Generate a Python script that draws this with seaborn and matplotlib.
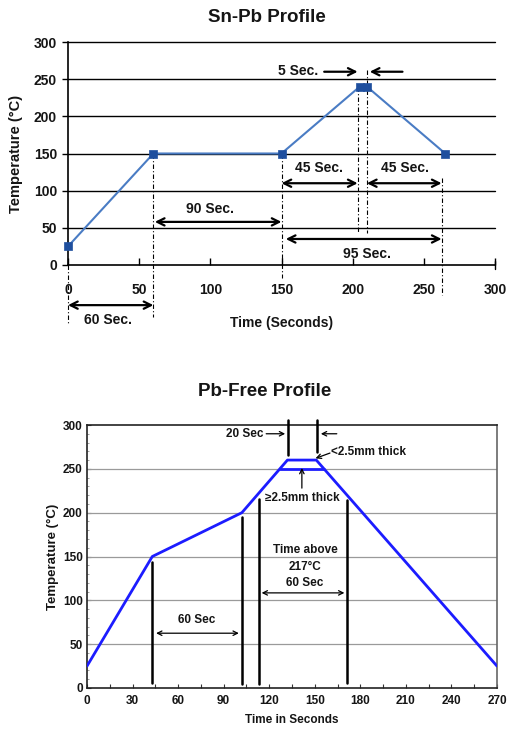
import matplotlib
matplotlib.use("Agg")
import matplotlib.pyplot as plt
import seaborn as sns
import pandas as pd

# ---------------- data ----------------
# Sn-Pb profile
snpb_time = [0, 60, 150, 205, 210, 265]
snpb_temp = [25, 150, 150, 240, 240, 150]
snpb_xticks = [0, 50, 100, 150, 200, 250, 300]
snpb_yticks = [0, 50, 100, 150, 200, 250, 300]

# Pb-free profile
pbf_time = [0, 43, 102, 132, 151, 270]
pbf_temp = [25, 150, 200, 260, 260, 25]
pbf_inner_time = [127, 156]
pbf_inner_temp = [250, 250]
pbf_xticks = [0, 30, 60, 90, 120, 150, 180, 210, 240, 270]
pbf_yticks = [0, 50, 100, 150, 200, 250, 300]

# ---------------- style ----------------
sns.set_theme(style="white")
plt.rcParams["font.family"] = ["Liberation Sans", "DejaVu Sans"]
plt.rcParams["font.weight"] = "bold"
plt.rcParams["text.color"] = "#151515"
plt.rcParams["axes.labelcolor"] = "#151515"

fig = plt.figure(figsize=(5.07, 7.29), dpi=100)

W, H = 507.0, 729.0
def box(l, t, r, b):
    return [l / W, 1 - b / H, (r - l) / W, (b - t) / H]

TXT = "#151515"

# ================= Sn-Pb =================
ax1 = fig.add_axes(box(68, 42, 495, 265))
df1 = pd.DataFrame({"Time": snpb_time, "Temp": snpb_temp})
for y in snpb_yticks[1:]:
    ax1.axhline(y, color="black", lw=1.0, zorder=1, clip_on=False)
sns.lineplot(data=df1, x="Time", y="Temp", ax=ax1, color="#4a7cc4", lw=1.5,
             zorder=3, sort=False)
sns.scatterplot(data=df1, x="Time", y="Temp", ax=ax1, marker="s", s=38,
                color="#1f4f9e", edgecolor="#1f4f9e", zorder=4, clip_on=False)
ax1.set_xlim(0, 300)
ax1.set_ylim(0, 300)
ax1.set_xticks(snpb_xticks)
ax1.set_yticks(snpb_yticks)
ax1.tick_params(axis="x", direction="in", length=5, width=1, pad=13,
                labelsize=10, colors="black", labelcolor=TXT, bottom=True)
ax1.tick_params(axis="y", direction="out", length=4, width=1, pad=4,
                labelsize=10, colors="black", labelcolor=TXT, left=True)
for lab in ax1.get_xticklabels() + ax1.get_yticklabels():
    lab.set_fontweight("bold")
for s in ["top", "right"]:
    ax1.spines[s].set_visible(False)
for s in ["left", "bottom"]:
    ax1.spines[s].set_color("black")
    ax1.spines[s].set_linewidth(1.2)
ax1.plot([300, 300], [-6, 6], color="black", lw=1, clip_on=False)
ax1.set_xlabel("Time (Seconds)", fontsize=10, fontweight="bold", labelpad=14)
ax1.set_ylabel("Temperature (°C)", fontsize=10.5, fontweight="bold", labelpad=8)

dd = dict(color="black", lw=0.8, ls=(0, (4, 2, 1, 2)), clip_on=False, zorder=2)
ax1.plot([0, 0], [0, -78], **dd)
ax1.plot([60, 60], [150, -70], **dd)
ax1.plot([150, 150], [150, -18], **dd)
ax1.plot([203.5, 203.5], [240, 43], **dd)
ax1.plot([210, 210], [262, 43], **dd)
ax1.plot([262.5, 262.5], [117, -40], **dd)

ap2 = dict(arrowstyle="<->", lw=1.6, color="black", mutation_scale=13,
           shrinkA=0, shrinkB=0)
ap1 = dict(arrowstyle="->", lw=1.6, color="black", mutation_scale=13,
           shrinkA=0, shrinkB=0)
def arr(ax, x0, y0, x1, y1, props):
    ax.annotate("", xy=(x1, y1), xytext=(x0, y0), arrowprops=props,
                annotation_clip=False)

arr(ax1, 0, -54, 60, -54, ap2)
ax1.text(28, -74, "60 Sec.", ha="center", va="center", fontsize=10, fontweight="bold")
arr(ax1, 61, 58, 150, 58, ap2)
ax1.text(100, 76, "90 Sec.", ha="center", va="center", fontsize=10, fontweight="bold")
arr(ax1, 150, 110, 203.5, 110, ap2)
ax1.text(176, 130, "45 Sec.", ha="center", va="center", fontsize=10, fontweight="bold")
arr(ax1, 210, 110, 262.5, 110, ap2)
ax1.text(237, 130, "45 Sec.", ha="center", va="center", fontsize=10, fontweight="bold")
arr(ax1, 153, 35, 262.5, 35, ap2)
ax1.text(210, 15, "95 Sec.", ha="center", va="center", fontsize=10, fontweight="bold")
arr(ax1, 180, 260, 203.5, 260, ap1)
arr(ax1, 235, 260, 212, 260, ap1)
ax1.text(162, 261, "5 Sec.", ha="center", va="center", fontsize=10, fontweight="bold")

fig.text(267 / W, 1 - 18 / H, "Sn-Pb Profile", ha="center", va="center",
         fontsize=13.5, fontweight="bold")

# ================= Pb-Free =================
ax2 = fig.add_axes(box(87, 425, 497, 688))
df2 = pd.DataFrame({"Time": pbf_time, "Temp": pbf_temp})
df2i = pd.DataFrame({"Time": pbf_inner_time, "Temp": pbf_inner_temp})
for y in pbf_yticks[1:-1]:
    ax2.axhline(y, color="#9a9a9a", lw=0.9, zorder=1)
sns.lineplot(data=df2, x="Time", y="Temp", ax=ax2, color="#1c1cff", lw=2.0,
             zorder=3, sort=False)
sns.lineplot(data=df2i, x="Time", y="Temp", ax=ax2, color="#1c1cff", lw=2.0,
             zorder=3, sort=False)
ax2.set_xlim(0, 270)
ax2.set_ylim(0, 300)
ax2.set_xticks(pbf_xticks)
ax2.set_yticks(pbf_yticks)
ax2.set_xticks(range(15, 271, 30), minor=True)
ax2.set_yticks(range(0, 301, 10), minor=True)
ax2.tick_params(axis="both", which="major", direction="in", length=3, width=0.8,
                labelsize=8.5, colors="#333333", labelcolor=TXT, bottom=True, left=True)
ax2.tick_params(axis="x", which="minor", direction="in", length=3, width=0.8,
                colors="#333333", bottom=True)
ax2.tick_params(axis="y", which="minor", direction="in", length=1.5, width=0.5,
                colors="#777777", left=True)
ax2.tick_params(axis="x", pad=5)
ax2.tick_params(axis="y", pad=3)
for lab in ax2.get_xticklabels() + ax2.get_yticklabels():
    lab.set_fontweight("bold")
for name, s in ax2.spines.items():
    s.set_visible(True)
    s.set_color("#222222" if name != "right" else "#666666")
    s.set_linewidth(1.2)
ax2.set_xlabel("Time in Seconds", fontsize=8.5, fontweight="bold", labelpad=5)
ax2.set_ylabel("Temperature (°C)", fontsize=9.5, fontweight="bold", labelpad=3)

vl = dict(color="black", lw=1.8, clip_on=False, zorder=4)
ax2.plot([43, 43], [144, 6], **vl)
ax2.plot([102, 102], [195, 4], **vl)
ax2.plot([113.5, 113.5], [216, 4], **vl)
ax2.plot([171.5, 171.5], [214, 6], **vl)
ax2.plot([132.5, 132.5], [306, 266], **vl)
ax2.plot([151.5, 151.5], [306, 269], **vl)

bp2 = dict(arrowstyle="<->", lw=0.9, color="black", mutation_scale=8,
           shrinkA=0, shrinkB=0)
bp1 = dict(arrowstyle="->", lw=0.9, color="black", mutation_scale=8,
           shrinkA=0, shrinkB=0)
arr(ax2, 45.5, 62.5, 100, 62.5, bp2)
ax2.text(72, 77, "60 Sec", ha="center", va="center", fontsize=8.5, fontweight="bold")
arr(ax2, 115, 108.5, 169.5, 108.5, bp2)
ax2.text(143.5, 157, "Time above", ha="center", va="center", fontsize=8.5, fontweight="bold")
ax2.text(143.5, 138.5, "217°C", ha="center", va="center", fontsize=8.5, fontweight="bold")
ax2.text(143.5, 120, "60 Sec", ha="center", va="center", fontsize=8.5, fontweight="bold")
arr(ax2, 118, 290, 130.5, 290, bp1)
arr(ax2, 164.5, 290, 154, 290, bp1)
ax2.text(104, 290, "20 Sec", ha="center", va="center", fontsize=8.5, fontweight="bold")
arr(ax2, 160, 268, 150.5, 262, bp1)
ax2.text(160.5, 269, "<2.5mm thick", ha="left", va="center", fontsize=8.5, fontweight="bold")
arr(ax2, 141.5, 228, 141.5, 251, bp1)
ax2.text(142, 216.5, "≥2.5mm thick", ha="center", va="center", fontsize=8.5, fontweight="bold")

fig.text(265 / W, 1 - 391 / H, "Pb-Free Profile", ha="center", va="center",
         fontsize=13.5, fontweight="bold")

fig.savefig("out.png", dpi=100)
